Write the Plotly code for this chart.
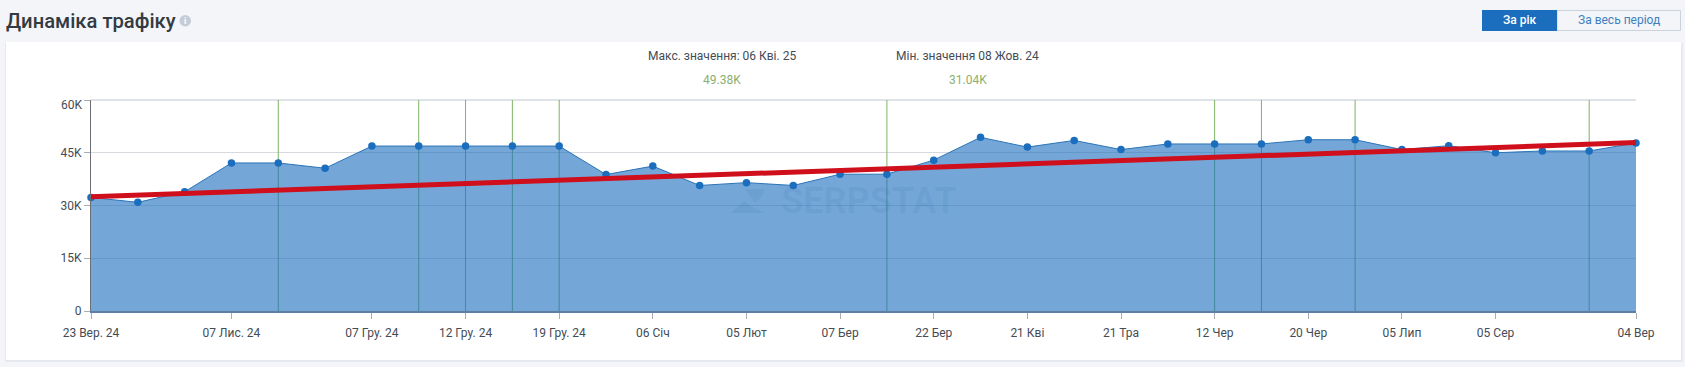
import plotly.graph_objects as go

W, H = 1685, 367
L, R, T, B = 91.0, 1636.0, 100.0, 311.0

traffic_k = [32.3, 30.9, 33.9, 42.1, 42.1, 40.6, 46.9, 46.9, 46.9, 46.9, 46.9, 38.8,
             41.2, 35.7, 36.5, 35.7, 38.9, 38.9, 42.9, 49.38, 46.6, 48.5, 45.9, 47.5,
             47.5, 47.5, 48.7, 48.7, 45.9, 47.0, 45.0, 45.5, 45.5, 47.8]
tick_positions = [0, 3, 6, 8, 10, 12, 14, 16, 18, 20, 22, 24, 26, 28, 30, 33]
tick_labels = ["23 Вер. 24", "07 Лис. 24", "07 Гру. 24", "12 Гру. 24", "19 Гру. 24",
               "06 Січ", "05 Лют", "07 Бер", "22 Бер", "21 Кві", "21 Тра", "12 Чер",
               "20 Чер", "05 Лип", "05 Сер", "04 Вер"]
y_ticks = [0, 15, 30, 45, 60]
y_labels = ["0", "15K", "30K", "45K", ""]
event_positions = [4, 7, 8, 9, 10, 17, 24, 25, 27, 32]
trend_x = [0, 33]
trend_k = [32.5, 47.9]

FONT = "Roboto, sans-serif"
positions = list(range(len(traffic_k)))


def px(x):
    return (x - L) / (R - L)


def py(y):
    return (B - y) / (B - T)


fig = go.Figure()

# event markers
ex, ey = [], []
for p in event_positions:
    ex += [p, p, None]
    ey += [0, 60, None]
fig.add_trace(go.Scatter(x=ex, y=ey, mode="lines", line=dict(color="#7db366", width=1),
                         hoverinfo="skip", showlegend=False))
# area
fig.add_trace(go.Scatter(x=positions, y=traffic_k, mode="lines+markers", fill="tozeroy",
                         fillcolor="rgba(23,108,190,0.6)",
                         line=dict(color="#2a74b8", width=1),
                         marker=dict(color="#1b6dbd", size=7.5),
                         cliponaxis=False, showlegend=False))
# trend
fig.add_trace(go.Scatter(x=trend_x, y=trend_k, mode="lines",
                         line=dict(color="#cf0f1b", width=5),
                         cliponaxis=False, hoverinfo="skip", showlegend=False))

shapes = [
    # card shadow and card
    dict(type="rect", xref="paper", yref="paper", layer="below", x0=px(5), x1=px(1683), y0=py(43), y1=py(362),
         fillcolor="#e6e9ef", line_width=0),
    dict(type="rect", xref="paper", yref="paper", layer="below", x0=px(6), x1=px(1681), y0=py(42), y1=py(360),
         fillcolor="#ffffff", line_width=0),
    # top border of the plot
    dict(type="line", xref="paper", yref="paper", layer="below", x0=0, x1=1, y0=1, y1=1,
         line=dict(color="#e0e3e6", width=2)),
    # buttons
    dict(type="rect", xref="paper", yref="paper", x0=px(1557), x1=px(1680.5), y0=py(10.5), y1=py(30.5),
         fillcolor="#f3f5f9", line=dict(color="#ccd2da", width=1)),
    dict(type="rect", xref="paper", yref="paper", x0=px(1482), x1=px(1557), y0=py(10), y1=py(31),
         fillcolor="#1b6dbd", line_width=0),
    # info icon
    dict(type="circle", xref="paper", yref="paper", x0=px(179.5), x1=px(191), y0=py(15), y1=py(26.5),
         fillcolor="#c5ccd6", line_width=0),
]


def poly(points):
    return "M " + " L ".join(f"{px(a):.5f},{py(b):.5f}" for a, b in points) + " Z"


# watermark logo
for pts in (
    [(745, 189), (765, 189), (762, 196), (755, 203), (750, 196)],
    [(731, 213), (744, 201), (752, 207), (765, 213), (746, 213)],
):
    shapes.append(dict(type="path", xref="paper", yref="paper", path=poly(pts),
                       fillcolor="rgba(40,100,165,0.10)", line_width=0))

annotations = []


def text(x, y, s, size=12, color="#444c55", xanchor="center", weight=None, family=FONT):
    f = dict(family=family, size=size, color=color)
    if weight:
        f["weight"] = weight
    annotations.append(dict(xref="paper", yref="paper", x=px(x), y=py(y), text=s, showarrow=False,
                            xanchor=xanchor, yanchor="middle", font=f,
                            borderpad=0, borderwidth=0))


text(5.5, 21, "Динаміка трафіку", size=20.2, color="#333a42", xanchor="left", weight=500)
text(185.2, 20.8, "i", size=9, color="#ffffff", weight=700)
text(1519.5, 20, "За рік", size=12, color="#ffffff", weight=500)
text(1619, 20, "За весь період", size=12, color="#3f7fc0")
text(722, 55.5, "Макс. значення: 06 Кві. 25", size=12)
text(967.5, 55.5, "Мін. значення 08 Жов. 24", size=12)
text(722, 79.5, "49.38K", size=12, color="#8ab06f")
text(967.5, 79.5, "31.04K", size=12, color="#8ab06f")
text(82, 104.5, "60K", size=12, xanchor="right")
text(869, 200.5, "SERPSTAT", size=36, color="rgba(40,100,165,0.09)", weight=700)

fig.update_layout(
    width=W, height=H, autosize=False,
    margin=dict(l=L, r=W - R, t=T, b=H - B, pad=0),
    paper_bgcolor="#f3f5f9", plot_bgcolor="rgba(0,0,0,0)",
    showlegend=False, shapes=shapes, annotations=annotations,
    font=dict(family=FONT, size=12, color="#444c55"),
    xaxis=dict(range=[0, 33], tickmode="array", tickvals=tick_positions, ticktext=tick_labels,
               ticks="outside", ticklen=6, tickcolor="#a9aeb4", tickwidth=1,
               showgrid=False, zeroline=False, showline=True, linecolor="#5f7ea3", linewidth=1.5,
               tickfont=dict(family=FONT, size=12, color="#444c55"), ticklabelstandoff=4),
    yaxis=dict(range=[0, 60], tickmode="array", tickvals=y_ticks, ticktext=y_labels,
               ticks="outside", ticklen=6, tickcolor="#a9aeb4", tickwidth=1,
               showgrid=True, gridcolor="#d6dade", gridwidth=1.3, zeroline=False,
               showline=True, linecolor="#6a6f75", linewidth=1,
               tickfont=dict(family=FONT, size=12, color="#444c55")),
)

fig.write_html("out.html", config={"displayModeBar": False},
               post_script="document.body.style.margin='0';document.body.style.overflow='hidden';document.body.style.background='#f3f5f9';")
